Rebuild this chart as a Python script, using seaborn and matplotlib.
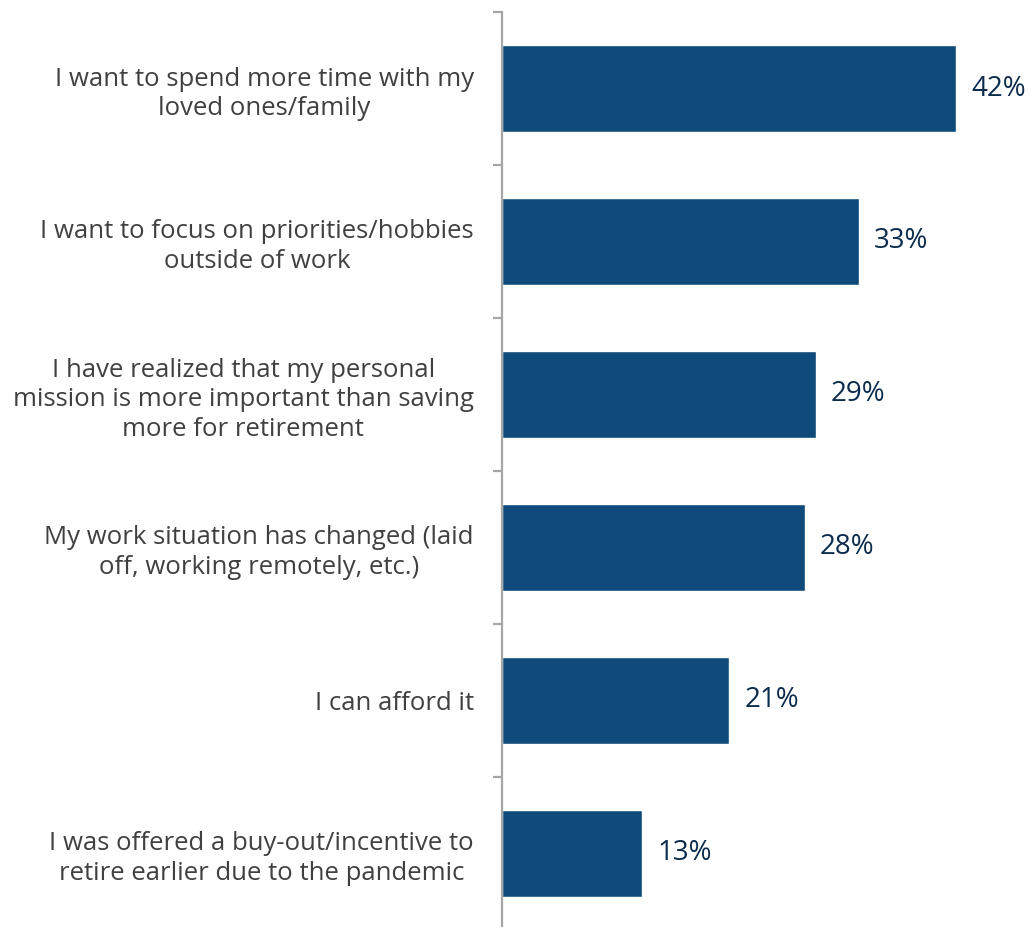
import matplotlib
matplotlib.use("Agg")
import matplotlib.pyplot as plt
import seaborn as sns
import pandas as pd

categories = [
    "I want to spend more time with my\nloved ones/family",
    "I want to focus on priorities/hobbies\noutside of work",
    "I have realized that my personal\nmission is more important than saving\nmore for retirement",
    "My work situation has changed (laid\noff, working remotely, etc.)",
    "I can afford it",
    "I was offered a buy-out/incentive to\nretire earlier due to the pandemic",
]
values = [42, 33, 29, 28, 21, 13]

df = pd.DataFrame({"reason": categories, "pct": values})

sns.set_theme(style="white")
plt.rcParams["font.family"] = ["Open Sans", "DejaVu Sans"]

fig = plt.figure(figsize=(10.30, 9.27), dpi=100)
ax = fig.add_axes([0.487, -0.003, 0.513, 0.990])

bar_color = "#0F4A7A"
sns.barplot(data=df, y="reason", x="pct", orient="h", color=bar_color,
            width=0.57, saturation=1, ax=ax)

ax.set_xlim(0, 48.8)
ax.set_ylim(5.5, -0.5)
ax.set_xlabel("")
ax.set_ylabel("")
ax.set_xticks([])

for s in ["top", "right", "bottom"]:
    ax.spines[s].set_visible(False)
ax.spines["left"].set_color("#A6A6A6")
ax.spines["left"].set_linewidth(1.6)

# category labels without major tick marks; boundary ticks as minor ticks
ax.tick_params(axis="y", which="major", left=True, length=0, pad=20,
               labelsize=18.5, labelcolor="#404040")
ax.set_yticks([i - 0.5 for i in range(len(categories) + 1)], minor=True)
ax.tick_params(axis="y", which="minor", left=True, length=6.5, width=1.6,
               color="#A6A6A6")
for lbl in ax.get_yticklabels():
    lbl.set_multialignment("center")
    lbl.set_linespacing(1.25)

for i, v in enumerate(values):
    ax.text(v + 1.4, i, f"{v}%", va="center", ha="left", fontsize=20,
            color="#0B2C4D")

fig.savefig("out.png", dpi=100)
